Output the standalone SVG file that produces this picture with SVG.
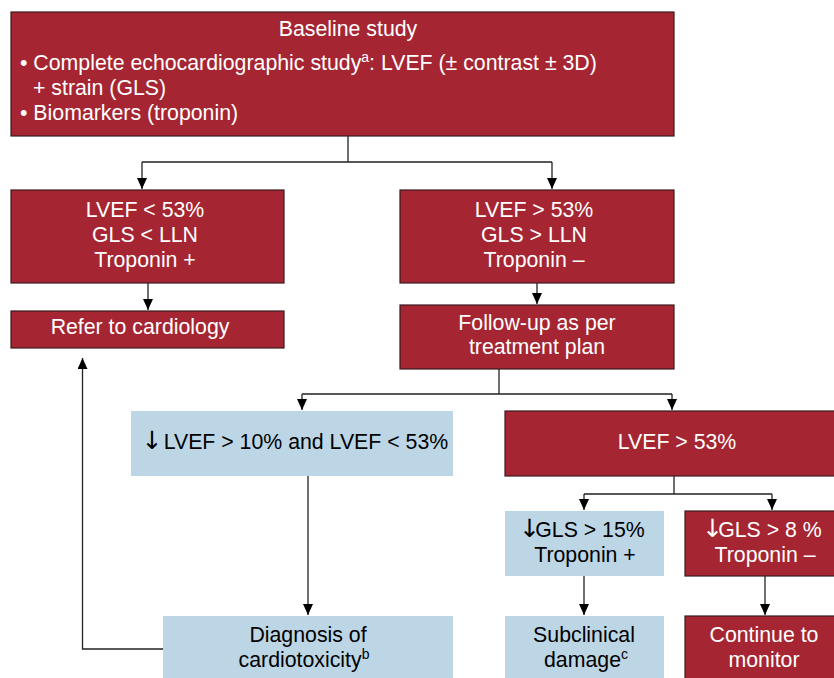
<svg xmlns="http://www.w3.org/2000/svg" width="834" height="678" viewBox="0 0 834 678">
<style>
.red{fill:#A52632;stroke:#3a1c1f;stroke-width:1.2}
.blue{fill:#BDD6E6;stroke:none}
text{font-family:"Liberation Sans",Arial,sans-serif;font-size:21.3px}
.ar{font-family:"DejaVu Sans",sans-serif;font-size:25px;letter-spacing:-5px}
.w{fill:#ffffff}
.k{fill:#000000}
.c{text-anchor:middle}
.ln{fill:none;stroke:#222;stroke-width:1.3}
</style>
<defs>
<marker id="ah" viewBox="0 0 11 10" refX="11" refY="5" markerWidth="11" markerHeight="10" markerUnits="userSpaceOnUse" orient="auto">
<path d="M0,0 L11,5 L0,10 Z" fill="#000"/>
</marker>
</defs>
<rect width="834" height="678" fill="#ffffff"/>
<g id="connectors">
<path class="ln" d="M348,136 V162 M142,162 H552" />
<path class="ln" d="M142,162 V189" marker-end="url(#ah)"/>
<path class="ln" d="M552,162 V189" marker-end="url(#ah)"/>
<path class="ln" d="M148,283 V310" marker-end="url(#ah)"/>
<path class="ln" d="M537,283 V304" marker-end="url(#ah)"/>
<path class="ln" d="M499,369 V394 M302,394 H672"/>
<path class="ln" d="M302,394 V410" marker-end="url(#ah)"/>
<path class="ln" d="M672,394 V410" marker-end="url(#ah)"/>
<path class="ln" d="M674,476 V494 M584,494 H772"/>
<path class="ln" d="M584,494 V510" marker-end="url(#ah)"/>
<path class="ln" d="M772,494 V510" marker-end="url(#ah)"/>
<path class="ln" d="M308,476 V615" marker-end="url(#ah)"/>
<path class="ln" d="M584,576 V615" marker-end="url(#ah)"/>
<path class="ln" d="M765,576 V615" marker-end="url(#ah)"/>
<path class="ln" d="M163,649 H82.5 V358" marker-end="url(#ah)"/>
</g>
<g id="baseline">
<rect class="red" x="11" y="12" width="663" height="124"/>
<text class="w c" x="348" y="36">Baseline study</text>
<text class="w" x="20" y="70">• Complete echocardiographic study<tspan font-size="14" dy="-8">a</tspan><tspan dy="8">: LVEF (± contrast ± 3D)</tspan></text>
<text class="w" x="33" y="95">+ strain (GLS)</text>
<text class="w" x="20" y="120">• Biomarkers (troponin)</text>
</g>
<g id="abnormal">
<rect class="red" x="11" y="190" width="273" height="93"/>
<text class="w c" x="145" y="217">LVEF &lt; 53%</text>
<text class="w c" x="145" y="242">GLS &lt; LLN</text>
<text class="w c" x="145" y="267">Troponin +</text>
</g>
<g id="normal">
<rect class="red" x="400" y="190" width="274" height="93"/>
<text class="w c" x="534" y="217">LVEF &gt; 53%</text>
<text class="w c" x="534" y="242">GLS &gt; LLN</text>
<text class="w c" x="534" y="267">Troponin –</text>
</g>
<g id="refer">
<rect class="red" x="11" y="311" width="273" height="37"/>
<text class="w c" x="140" y="334">Refer to cardiology</text>
</g>
<g id="followup">
<rect class="red" x="400" y="305" width="274" height="64"/>
<text class="w c" x="537" y="330">Follow-up as per</text>
<text class="w c" x="537" y="354">treatment plan</text>
</g>
<g id="lvef-drop">
<rect class="blue" x="131" y="411" width="322" height="65"/>
<text class="k c" x="295" y="449"><tspan class="ar">↓</tspan> LVEF &gt; 10% and LVEF &lt; 53%</text>
</g>
<g id="lvef-normal">
<rect class="red" x="505" y="411" width="340" height="65"/>
<text class="w c" x="677" y="449">LVEF &gt; 53%</text>
</g>
<g id="gls15">
<rect class="blue" x="505" y="511" width="159" height="65"/>
<text class="k c" x="582" y="537"><tspan class="ar">↓</tspan>GLS &gt; 15%</text>
<text class="k c" x="585" y="562">Troponin +</text>
</g>
<g id="gls8">
<rect class="red" x="685" y="511" width="160" height="65"/>
<text class="w c" x="762" y="537"><tspan class="ar">↓</tspan>GLS &gt; 8 %</text>
<text class="w c" x="765" y="562">Troponin –</text>
</g>
<g id="diagnosis">
<rect class="blue" x="163" y="616" width="290" height="70"/>
<text class="k c" x="308" y="642">Diagnosis of</text>
<text class="k c" x="304" y="667">cardiotoxicity<tspan font-size="14" dy="-8">b</tspan></text>
</g>
<g id="subclinical">
<rect class="blue" x="505" y="616" width="159" height="70"/>
<text class="k c" x="584" y="642">Subclinical</text>
<text class="k c" x="586" y="667">damage<tspan font-size="14" dy="-8">c</tspan></text>
</g>
<g id="continue">
<rect class="red" x="685" y="616" width="160" height="70"/>
<text class="w c" x="764" y="642">Continue to</text>
<text class="w c" x="764" y="667">monitor</text>
</g>
</svg>
